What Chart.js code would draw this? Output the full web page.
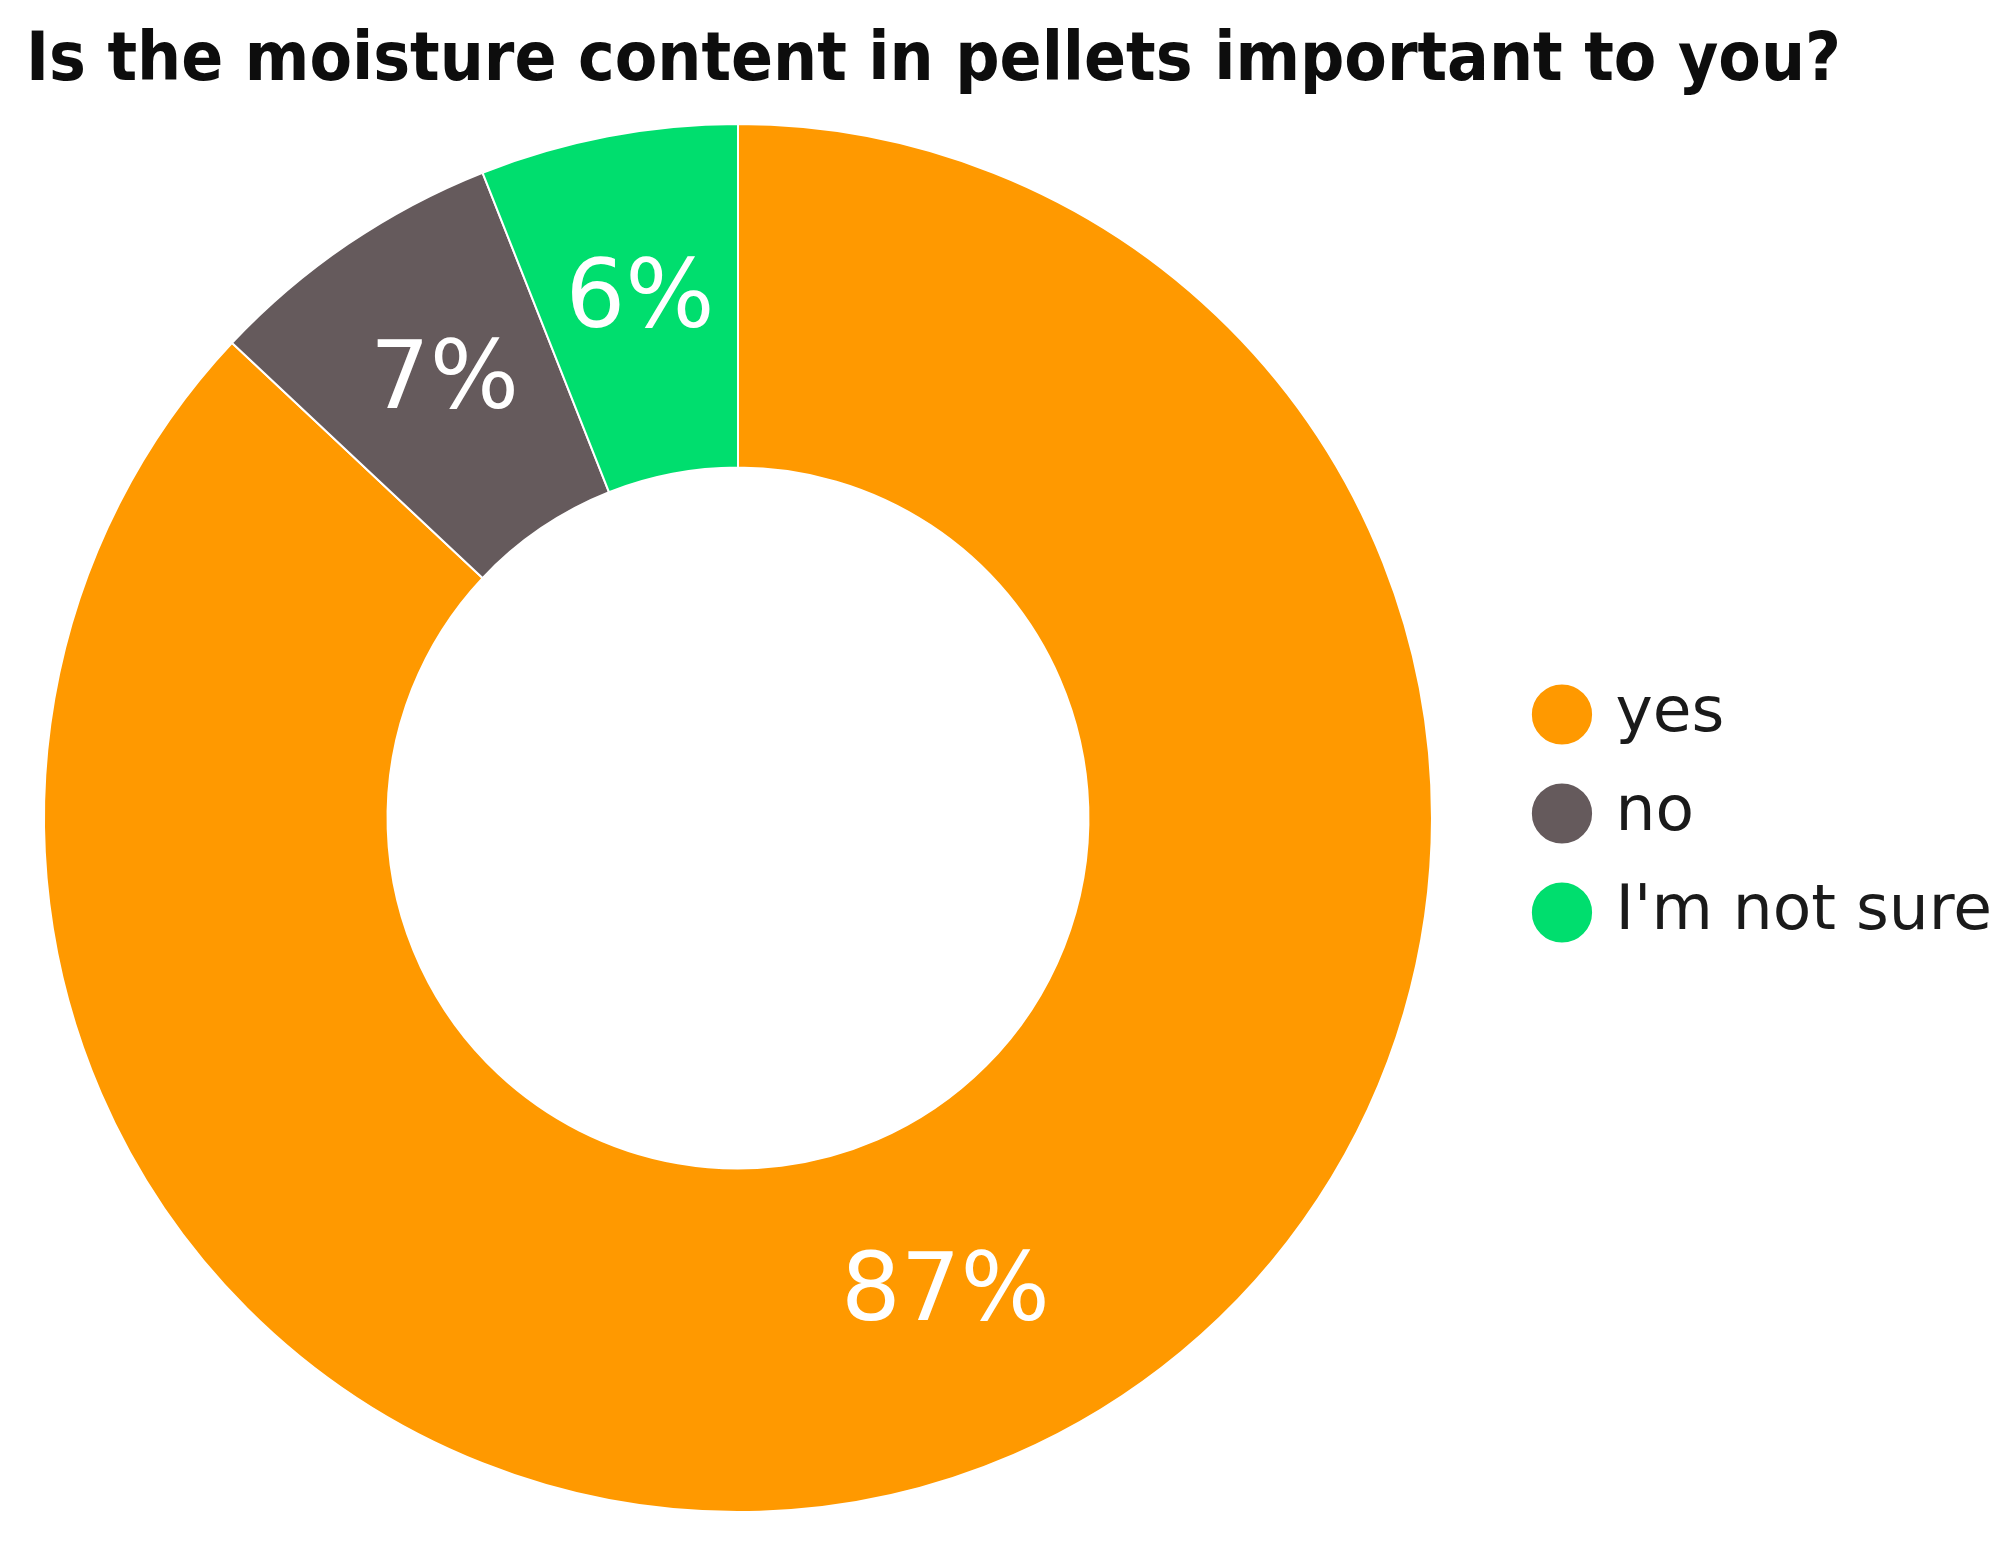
<!DOCTYPE html>
<html>
<head>
<meta charset="utf-8">
<script src="https://cdn.jsdelivr.net/npm/chart.js@4"></script>
<style>
  html, body { margin: 0; padding: 0; background: #fff; }
  #wrap { position: relative; width: 2005px; height: 1547px; }
  #title { position: absolute; left: 26px; top: 24px; margin: 0; white-space: nowrap;
           font-family: "DejaVu Sans Condensed", "DejaVu Sans", sans-serif; font-weight: bold;
           font-size: 67px; line-height: 66px; color: #0d0d0d; transform-origin: 0 0; }
  canvas { position: absolute; left: 0; top: 0; }
</style>
</head>
<body>
<div id="wrap">
  <canvas id="c" width="2005" height="1547"></canvas>
  <div id="title"><span id="tt"></span></div>
</div>
<script>
const titleText = "Is the moisture content in pellets important to you?";
const categories = ["yes", "no", "I'm not sure"];
const values = [87, 7, 6];
const colors = ["#FF9900", "#655A5C", "#00DE6E"];

document.getElementById('tt').textContent = titleText;
const tEl = document.getElementById('title');
const tw = document.getElementById('tt').getBoundingClientRect().width;
tEl.style.transform = 'scaleX(' + (1815 / tw) + ')';

function makeSpacer(id, position, size) {
  return {
    id, position, weight: 0, fullSize: false,
    options: { stackWeight: 1 },
    left: 0, top: 0, right: 0, bottom: 0, width: 0, height: 0,
    update(maxWidth, maxHeight) {
      if (position === 'left' || position === 'right') { this.width = size; this.height = maxHeight; }
      else { this.width = maxWidth; this.height = size; }
    },
    isHorizontal() { return position === 'top' || position === 'bottom'; },
    getPadding() { return { left: 0, right: 0, top: 0, bottom: 0 }; },
    draw() {}
  };
}

const spacers = {
  id: 'spacers',
  beforeInit(chart) {
    Chart.layouts.addBox(chart, makeSpacer('rightGap', 'right', 28));
    Chart.layouts.addBox(chart, makeSpacer('topGap', 'top', 9));
  }
};

const pctLabels = {
  id: 'pctLabels',
  afterDatasetsDraw(chart) {
    const ctx = chart.ctx;
    const meta = chart.getDatasetMeta(0);
    const ds = chart.data.datasets[0];
    const total = ds.data.reduce((a, b) => a + b, 0);
    ctx.save();
    ctx.fillStyle = '#ffffff';
    ctx.font = '94px "DejaVu Sans"';
    ctx.textAlign = 'center';
    ctx.textBaseline = 'middle';
    meta.data.forEach((arc, i) => {
      const p = arc.tooltipPosition();
      ctx.fillText(Math.round(ds.data[i] / total * 100) + '%', p.x, p.y - 2);
    });
    ctx.restore();
  }
};

new Chart(document.getElementById('c'), {
  type: 'doughnut',
  data: {
    labels: categories,
    datasets: [{
      data: values,
      backgroundColor: colors,
      borderColor: '#ffffff',
      borderWidth: 2,
      hoverOffset: 0
    }]
  },
  options: {
    responsive: false,
    animation: false,
    cutout: '50.5%',
    layout: { padding: { left: 0, right: 3, top: 114, bottom: 34 } },
    plugins: {
      title: { display: false },
      tooltip: { enabled: false },
      legend: {
        position: 'right',
        labels: {
          usePointStyle: true,
          pointStyle: 'circle',
          boxWidth: 44,
          boxHeight: 44,
          padding: 36,
          color: '#1a1a1a',
          font: { family: '"DejaVu Sans"', size: 63 }
        }
      }
    }
  },
  plugins: [spacers, pctLabels]
});
</script>
</body>
</html>
